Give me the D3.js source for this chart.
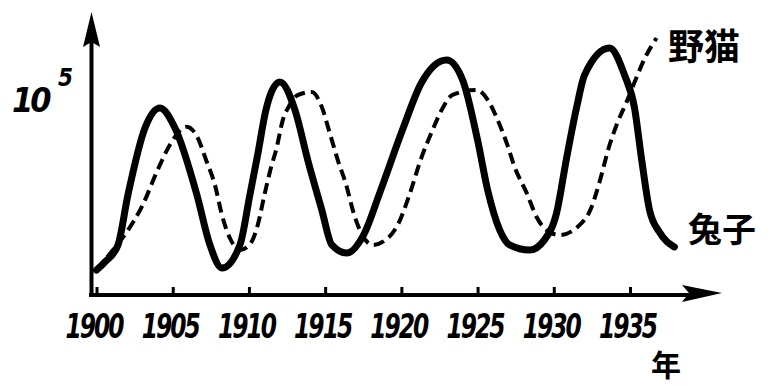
<!DOCTYPE html>
<html>
<head>
<meta charset="utf-8">
<script src="https://cdn.jsdelivr.net/npm/d3@7"></script>
<style>
  body { margin: 0; background: #fff; }
  svg { display: block; }
</style>
</head>
<body>
<div id="chart"></div>
<script>
// values, units of 10^5
var rabbitYears = [1900, 1900.56, 1901.41, 1902.06, 1903.18, 1904.16, 1905.15, 1906.59, 1907.44, 1908.23, 1909.41, 1910.06, 1910.6, 1911.1, 1911.5, 1912.03, 1913.02, 1913.86, 1914.78, 1915.44, 1916.42, 1917.5, 1918.6, 1920.1, 1921.3, 1922.97, 1924.02, 1925.0, 1925.66, 1926.45, 1927.1, 1928.41, 1929.4, 1930.18, 1930.84, 1931.49, 1932.02, 1933.66, 1934.64, 1935.3, 1935.75, 1936.28, 1936.93, 1937.91]
var rabbitVals  = [0.126, 0.167, 0.253, 0.505, 0.844, 0.945, 0.844, 0.505, 0.253, 0.136, 0.253, 0.505, 0.72, 0.93, 1.03, 1.077, 0.935, 0.682, 0.43, 0.253, 0.212, 0.30, 0.52, 0.84, 1.07, 1.188, 1.087, 0.783, 0.531, 0.329, 0.253, 0.227, 0.28, 0.414, 0.692, 0.945, 1.112, 1.248, 1.112, 0.945, 0.692, 0.43, 0.318, 0.243]
var lynxYears = [1900, 1901, 1902, 1903, 1904, 1904.9, 1905.9, 1906.6, 1907.2, 1907.77, 1908.23, 1908.75, 1909.41, 1910.1, 1910.6, 1911.0, 1911.4, 1911.83, 1912.22, 1912.6, 1913.2, 1914.12, 1914.78, 1915.3, 1915.83, 1916.42, 1916.81, 1917.27, 1918.12, 1919.0, 1919.8, 1920.5, 1921.33, 1922.05, 1922.64, 1923.36, 1924.94, 1925.79, 1926.32, 1926.91, 1927.43, 1928.22, 1928.87, 1929.72, 1930.38, 1931.56, 1932.48, 1933.0, 1933.66, 1934.12, 1934.77, 1936.08, 1936.74]
var lynxVals  = [0.126, 0.22, 0.32, 0.45, 0.63, 0.77, 0.85, 0.80, 0.68, 0.556, 0.404, 0.288, 0.227, 0.26, 0.36, 0.50, 0.63, 0.748, 0.884, 0.95, 1.01, 1.026, 0.95, 0.819, 0.682, 0.546, 0.43, 0.329, 0.253, 0.28, 0.36, 0.50, 0.697, 0.834, 0.935, 1.011, 1.036, 0.97, 0.884, 0.768, 0.647, 0.516, 0.394, 0.318, 0.303, 0.344, 0.445, 0.571, 0.758, 0.859, 0.975, 1.213, 1.299]
var tickYears = [1900, 1905, 1910, 1915, 1920, 1925, 1930, 1935]
var tickLabels = ['1900', '1905', '1910', '1915', '1920', '1925', '1930', '1935']

var W = 768, H = 385
var svg = d3.select('#chart').append('svg')
    .attr('width', W)
    .attr('height', H)

var x = d3.scaleLinear().domain([1900, 1935]).range([96.5, 630])
var y = d3.scaleLinear().domain([0, 1.4]).range([295, 18])

var rabbit = rabbitYears.map(function(d, i){ return [d, rabbitVals[i]] })
var lynx = lynxYears.map(function(d, i){ return [d, lynxVals[i]] })

var line = d3.line()
    .x(function(d){ return x(d[0]) })
    .y(function(d){ return y(d[1]) })
    .curve(d3.curveMonotoneX)

// axes
var axisX = d3.axisBottom(x).tickValues(tickYears).tickSize(0).tickFormat('')
var gx = svg.append('g').attr('transform', 'translate(0,' + y(0) + ')').call(axisX)
gx.select('.domain').remove()
gx.append('line')
    .attr('x1', 89).attr('x2', 700)
    .attr('stroke', '#000').attr('stroke-width', 4)
gx.selectAll('.tick').append('line')
    .attr('y1', 0).attr('y2', -8)
    .attr('stroke', '#000').attr('stroke-width', 3)
gx.selectAll('.tick').append('text')
    .attr('x', -3).attr('y', 33)
    .attr('transform', 'scale(1,1.3)')
    .attr('text-anchor', 'middle')
    .attr('fill', '#000')
    .attr('font-family', '"DejaVu Sans Condensed", "DejaVu Sans"')
    .attr('font-style', 'italic')
    .attr('font-weight', 'bold')
    .attr('font-size', 26)
    .attr('letter-spacing', -2)
    .text(function(d, i){ return tickLabels[i] })
svg.append('path')
    .attr('d', 'M722,293 L682,285 L689,293 L682,302 Z')
    .attr('fill', '#000')

svg.append('line')
    .attr('x1', x(1900) - 5).attr('x2', x(1900) - 5)
    .attr('y1', y(0) + 2).attr('y2', 40)
    .attr('stroke', '#000').attr('stroke-width', 4)
svg.append('path')
    .attr('d', 'M91.5,12 L100,47 L91.5,42 L83,47 Z')
    .attr('fill', '#000')

// curves
svg.append('path')
    .datum(lynx)
    .attr('d', line)
    .attr('fill', 'none')
    .attr('stroke', '#000')
    .attr('stroke-width', 4)
    .attr('stroke-dasharray', '11,6')
svg.append('path')
    .datum(rabbit)
    .attr('d', line)
    .attr('fill', 'none')
    .attr('stroke', '#000')
    .attr('stroke-width', 7)
    .attr('stroke-linecap', 'round')
    .attr('stroke-linejoin', 'round')

// labels
svg.append('text')
    .attr('x', 12).attr('y', 112)
    .attr('font-family', '"DejaVu Sans Condensed", "DejaVu Sans"')
    .attr('font-style', 'italic').attr('font-weight', 'bold')
    .attr('font-size', 34)
    .attr('letter-spacing', -3)
    .text('10')
svg.append('text')
    .attr('x', 58).attr('y', 86)
    .attr('font-family', '"DejaVu Sans Condensed", "DejaVu Sans"')
    .attr('font-style', 'italic').attr('font-weight', 'bold')
    .attr('font-size', 24)
    .text('5')

var cjk = '"Noto Sans CJK SC", sans-serif'
svg.append('text')
    .attr('x', 668).attr('y', 60)
    .attr('font-family', cjk).attr('font-weight', 'bold')
    .attr('font-size', 36)
    .text('野猫')
svg.append('text')
    .attr('x', 688).attr('y', 242)
    .attr('font-family', cjk).attr('font-weight', 'bold')
    .attr('font-size', 34)
    .text('兔子')
svg.append('text')
    .attr('x', 651).attr('y', 376)
    .attr('font-family', cjk).attr('font-weight', 'bold')
    .attr('font-size', 30)
    .text('年')
</script>
</body>
</html>
